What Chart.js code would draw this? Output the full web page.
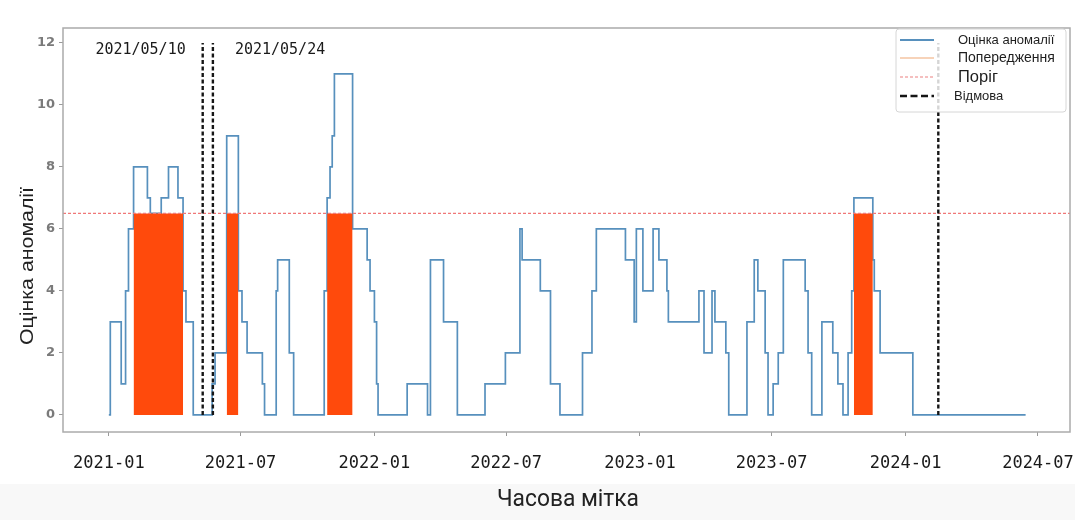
<!DOCTYPE html>
<html>
<head>
<meta charset="utf-8">
<script src="https://cdn.jsdelivr.net/npm/chart.js@4.4.1/dist/chart.umd.min.js"></script>
<style>
  html, body { margin: 0; padding: 0; background: #fff; }
  canvas { display: block; }
</style>
</head>
<body>
<canvas id="chart" width="1075" height="520"></canvas>
<script>
// ---- data ----
const seriesNames = ['Оцінка аномалії', 'Попередження', 'Поріг', 'Відмова'];

// anomaly score, step function: each value holds from its date until the next one
const scoreDates = [
  '2021-01-01','2021-01-03','2021-01-18','2021-01-24','2021-01-28','2021-02-04','2021-02-23','2021-02-27',
  '2021-03-14','2021-03-24','2021-04-06','2021-04-13','2021-04-17','2021-04-27','2021-05-23','2021-05-27',
  '2021-06-12','2021-06-28','2021-07-03','2021-07-10','2021-07-31','2021-08-03','2021-08-19','2021-08-21',
  '2021-09-06','2021-09-12','2021-10-24','2021-10-28','2021-11-01','2021-11-04','2021-11-07','2021-12-02',
  '2021-12-22','2021-12-26','2022-01-01','2022-01-04','2022-01-06','2022-02-15','2022-03-15','2022-03-19',
  '2022-04-06','2022-04-25','2022-06-02','2022-06-30','2022-07-20','2022-07-23','2022-08-17','2022-08-31',
  '2022-09-13','2022-10-14','2022-10-27','2022-11-02','2022-12-12','2022-12-24','2022-12-27','2023-01-05',
  '2023-01-19','2023-01-27','2023-02-07','2023-02-09','2023-03-23','2023-03-30','2023-04-10','2023-04-14',
  '2023-04-29','2023-05-03','2023-05-28','2023-06-07','2023-06-12','2023-06-22','2023-06-26','2023-07-03',
  '2023-07-10','2023-07-17','2023-08-16','2023-08-20','2023-08-25','2023-09-08','2023-09-23','2023-09-30',
  '2023-10-07','2023-10-14','2023-10-19','2023-10-22','2023-11-17','2023-11-19','2023-11-27','2024-01-11',
  '2024-06-14'
];
const scoreValues = [
  0, 3, 1, 4, 6, 8, 7, 6.5,
  7, 8, 7, 4, 3, 0, 1, 2,
  9, 4, 3, 2, 1, 0, 4, 5,
  2, 0, 4, 7, 8, 9, 11, 6,
  5, 4, 3, 1, 0, 1, 0, 5,
  3, 0, 1, 2, 6, 5, 4, 1,
  0, 2, 4, 6, 5, 3, 6, 4,
  6, 5, 4, 3, 4, 2, 4, 3,
  2, 0, 3, 5, 4, 2, 0, 1,
  2, 5, 4, 2, 0, 3, 2, 1,
  0, 2, 4, 7, 5, 4, 2, 0,
  0
];

const threshold = 6.5;

// warning periods (score above the threshold)
const warnStart = ['2021-02-04', '2021-06-12', '2021-10-28', '2023-10-22'];
const warnEnd   = ['2021-04-13', '2021-06-28', '2021-12-02', '2023-11-17'];

// failure events
const failureDates = ['2021-05-10', '2021-05-24', '2024-02-15'];
const failureTop = 12;

// axis ticks
const xTickLabels = ['2021-01','2021-07','2022-01','2022-07','2023-01','2023-07','2024-01','2024-07'];
const yTicks = [0, 2, 4, 6, 8, 10, 12];

// ---- helpers ----
const t = s => { const [y, m, d] = s.split('-').map(Number); return Date.UTC(y, m - 1, d || 1); };
const xMin = t('2020-10-30');
const xMax = t('2024-08-14');

const scorePts = scoreDates.map((d, i) => ({ x: t(d), y: scoreValues[i] }));
const failurePts = [];
failureDates.forEach((d, i) => {
  if (i > 0) failurePts.push({ x: t(d), y: null });
  failurePts.push({ x: t(d), y: 0 }, { x: t(d), y: failureTop });
});

const warnSets = warnStart.map((s, i) => ({
  label: seriesNames[1],
  data: [{ x: t(s), y: threshold }, { x: t(warnEnd[i]), y: threshold }],
  borderColor: 'rgba(0,0,0,0)',
  borderWidth: 0,
  backgroundColor: '#ff4a0c',
  fill: 'origin',
  pointRadius: 0,
  order: 2
}));

// ---- extra drawing: frame, event labels, axis titles, legend ----
function condensedText(ctx, text, x, y, font, targetW, rot) {
  ctx.save();
  ctx.font = font;
  const w = ctx.measureText(text).width;
  ctx.translate(x, y);
  if (rot) ctx.rotate(rot);
  ctx.scale(Math.min(1.15, targetW / w), 1);
  ctx.textAlign = 'center';
  ctx.textBaseline = 'middle';
  ctx.fillText(text, 0, 0);
  ctx.restore();
}

const decor = {
  id: 'decor',
  beforeDraw(chart) {
    const { ctx, width, height } = chart;
    ctx.save();
    ctx.fillStyle = '#ffffff';
    ctx.fillRect(0, 0, width, height);
    ctx.fillStyle = '#f8f8f8';
    ctx.fillRect(0, 484, width, height - 484);
    ctx.restore();
  },
  afterDatasetsDraw(chart) {
    const { ctx, chartArea: a } = chart;
    const xs = chart.scales.x, ys = chart.scales.y;
    ctx.save();
    ctx.strokeStyle = '#ababab';
    ctx.lineWidth = 1.5;
    ctx.strokeRect(a.left, a.top, a.right - a.left, a.bottom - a.top);

    // date labels beside the first two failure lines
    ctx.font = '15px "DejaVu Sans Mono"';
    ctx.fillStyle = '#1a1a1a';
    ctx.textBaseline = 'middle';
    const ly = ys.getPixelForValue(failureTop) + 7;
    const x1 = xs.getPixelForValue(t(failureDates[0]));
    const x2 = xs.getPixelForValue(t(failureDates[1]));
    ctx.textAlign = 'right';
    ctx.fillText(failureDates[0].replace(/-/g, '/'), x1 - 17, ly);
    ctx.textAlign = 'left';
    ctx.fillText(failureDates[1].replace(/-/g, '/'), x2 + 22, ly);
    ctx.restore();
  },
  afterDraw(chart) {
    const { ctx } = chart;
    ctx.save();
    ctx.fillStyle = '#222';
    condensedText(ctx, seriesNames[0], 28, 266, '19px "Liberation Sans"', 158, -Math.PI / 2);
    condensedText(ctx, 'Часова мітка', 568, 500, '24px Roboto', 142, 0);

    // legend
    const bx = 896, by = 29, bw = 170, bh = 83, r = 3;
    ctx.beginPath();
    ctx.moveTo(bx + r, by);
    ctx.arcTo(bx + bw, by, bx + bw, by + bh, r);
    ctx.arcTo(bx + bw, by + bh, bx, by + bh, r);
    ctx.arcTo(bx, by + bh, bx, by, r);
    ctx.arcTo(bx, by, bx + bw, by, r);
    ctx.closePath();
    ctx.fillStyle = 'rgba(255,255,255,0.82)';
    ctx.fill();
    ctx.strokeStyle = '#d6d6d6';
    ctx.lineWidth = 1;
    ctx.stroke();

    const rows = [
      { y: 40, color: '#5790bd', w: 2, dash: [], font: '13px "Liberation Sans"', tx: 958 },
      { y: 58, color: '#f4c4a2', w: 1.5, dash: [], font: '14px "Liberation Sans"', tx: 958 },
      { y: 77, color: '#ec8080', w: 1.2, dash: [3, 2], font: '16.5px "Liberation Sans"', tx: 958 },
      { y: 96, color: '#151515', w: 2.4, dash: [7, 3.5], font: '13px "Liberation Sans"', tx: 954 }
    ];
    rows.forEach((row, i) => {
      ctx.beginPath();
      ctx.setLineDash(row.dash);
      ctx.strokeStyle = row.color;
      ctx.lineWidth = row.w;
      ctx.moveTo(900, row.y);
      ctx.lineTo(934, row.y);
      ctx.stroke();
      ctx.setLineDash([]);
      ctx.font = row.font;
      ctx.fillStyle = '#1e1e1e';
      ctx.textAlign = 'left';
      ctx.textBaseline = 'middle';
      ctx.fillText(seriesNames[i], row.tx, row.y);
    });
    ctx.restore();
  }
};

new Chart(document.getElementById('chart'), {
  type: 'line',
  data: {
    datasets: [
      {
        label: seriesNames[3],
        data: failurePts,
        borderColor: '#161616',
        borderWidth: 2.4,
        borderDash: [4, 2.5],
        pointRadius: 0,
        spanGaps: false,
        fill: false,
        order: 0
      },
      {
        label: seriesNames[2],
        data: [{ x: xMin, y: threshold }, { x: xMax, y: threshold }],
        borderColor: '#f07878',
        borderWidth: 1.2,
        borderDash: [3, 2],
        pointRadius: 0,
        fill: false,
        order: 1
      },
      ...warnSets,
      {
        label: seriesNames[0],
        data: scorePts,
        stepped: true,
        borderColor: '#5790bd',
        borderWidth: 1.7,
        pointRadius: 0,
        fill: false,
        order: 3
      }
    ]
  },
  options: {
    responsive: false,
    animation: false,
    devicePixelRatio: 1,
    events: [],
    layout: { padding: { top: 28, right: 5, left: 0, bottom: 0 } },
    plugins: { legend: { display: false }, tooltip: { enabled: false } },
    scales: {
      x: {
        type: 'linear',
        min: xMin,
        max: xMax,
        afterBuildTicks(scale) { scale.ticks = xTickLabels.map(l => ({ value: t(l) })); },
        afterFit(scale) {
          scale.height = 88;
          scale.paddingLeft = 0; scale.paddingRight = 0;
        },
        grid: { drawOnChartArea: false, drawTicks: true, tickLength: 4, color: '#9a9a9a' },
        border: { display: false },
        ticks: {
          autoSkip: false,
          maxRotation: 0,
          minRotation: 0,
          padding: 17,
          color: '#1a1a1a',
          font: { family: '"DejaVu Sans Mono"', size: 17 },
          callback: (v, i) => xTickLabels[i]
        }
      },
      y: {
        type: 'linear',
        min: -0.55,
        max: 12.48,
        afterBuildTicks(scale) { scale.ticks = yTicks.map(v => ({ value: v })); },
        afterFit(scale) {
          scale.width = 63;
          scale.paddingTop = 0; scale.paddingBottom = 0;
        },
        grid: { drawOnChartArea: false, drawTicks: true, tickLength: 4, color: '#9a9a9a' },
        border: { display: false },
        ticks: {
          padding: 4,
          color: '#7a7a7a',
          font: { family: '"DejaVu Sans"', size: 13, weight: 'bold' }
        }
      }
    }
  },
  plugins: [decor]
});
</script>
</body>
</html>
